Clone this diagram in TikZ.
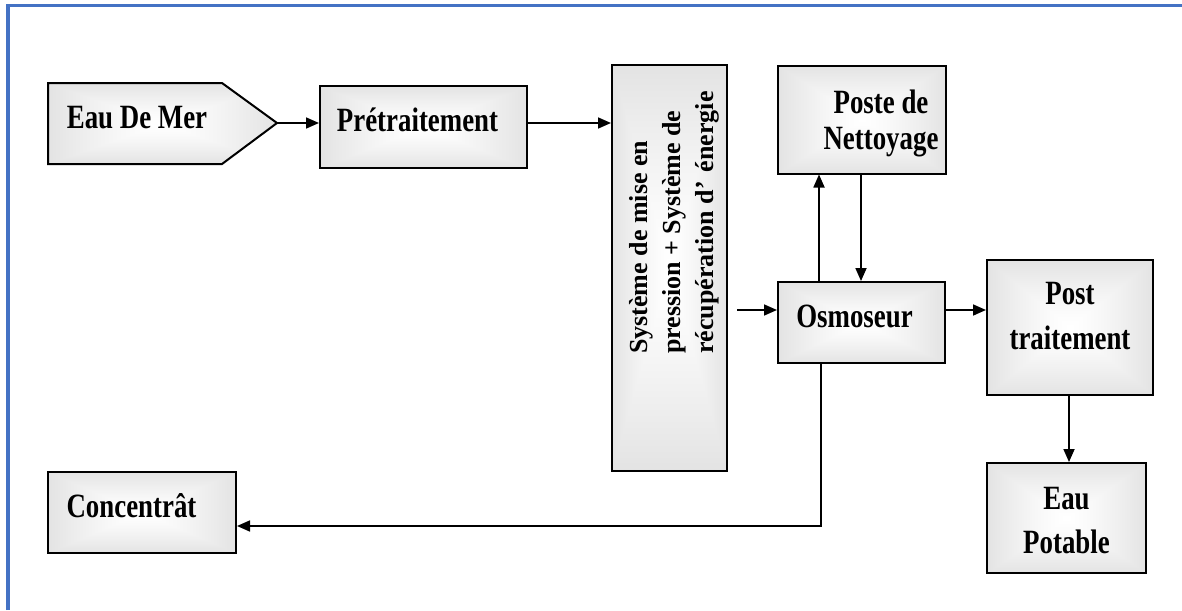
\documentclass[tikz,border=0pt]{standalone}
\usepackage{fontspec}
\setmainfont{Liberation Serif}[FakeStretch=0.79]
\newfontfamily\uprightserif{Liberation Serif}
\usetikzlibrary{arrows.meta}

% soft grey frame fading to white in the middle of each box
\pgfdeclarefunctionalshading{boxfade}{\pgfpoint{-50bp}{-50bp}}{\pgfpoint{50bp}{50bp}}{}{
  abs exch abs 2 copy lt {exch} if pop
  50 div 1.3 exp 0.27 mul neg 1 add dup dup
}

\definecolor{frameblue}{RGB}{68,114,196}

\begin{document}
\begin{tikzpicture}[x=1pt,y=-1pt,
  txt/.style={font=\fontsize{34}{36}\selectfont\bfseries, align=center, inner sep=0pt},
  blk/.style={draw=black, line width=2pt, shading=boxfade, rectangle,
              inner sep=0pt, font=\fontsize{34}{36}\selectfont\bfseries, align=center},
  arr/.style={line width=1.7pt, -{Triangle[length=13pt,width=11pt]}},
]
\useasboundingbox (0,0) rectangle (1182,610);

% frame along the top and left edges
\draw[frameblue, line width=3.6pt] (8,610) -- (8,5.7) -- (1182,5.7);

% sea water inlet (arrow-shaped block)
\shade[shading=boxfade, draw=black, line width=2pt, line join=miter]
  (48,83) -- (222,83) -- (277,123) -- (222,164) -- (48,164) -- cycle;
\coordinate (seatip) at (277,123);
\node[txt, anchor=base] (sea) at (137,128) {Eau De Mer};

% process blocks (text height/depth place the last baseline inside each block)
\node[blk, minimum width=207pt, minimum height=82pt, text height=8pt, text depth=0pt]
  (pre) at (423.5,127) {\hspace*{-12pt}Prétraitement};
\node[blk, minimum width=115pt, minimum height=406pt] (vsys) at (669.5,268) {};
\node[rotate=90, anchor=base west, align=left, inner sep=0pt,
      font=\uprightserif\fontsize{26}{33}\selectfont\bfseries] (vsystxt) at (713,354)
  {Système de mise en\\pression + Système de\\récupération d’\hspace{9pt}énergie};
\node[blk, minimum width=168pt, minimum height=108pt, text height=59pt, text depth=0pt]
  (clean) at (862,119.5) {\hspace*{38pt}Poste de\\\hspace*{38pt}Nettoyage};
\node[blk, minimum width=167pt, minimum height=81pt, text height=9pt, text depth=0pt]
  (osm) at (861.5,322.5) {\hspace*{-14pt}Osmoseur};
\node[blk, minimum width=166pt, minimum height=135pt, text height=43pt, text depth=0pt]
  (post) at (1070,327.5) {Post\\[9pt]traitement};
\node[blk, minimum width=159pt, minimum height=110pt, text height=70pt, text depth=0pt]
  (pot) at (1066.5,518) {Eau\\[8pt]Potable};
\node[blk, minimum width=188pt, minimum height=81pt, text height=9pt, text depth=0pt]
  (conc) at (142,512.5) {\hspace*{-21pt}Concentrât};

% helper points for the connectors
\coordinate (osmin) at (737,310);
\coordinate (upx) at (819,0);
\coordinate (dnx) at (861,0);
\coordinate (bend) at (821,526);
\coordinate (px) at (1069,0);

% connectors
\draw[arr] (seatip) -- (seatip -| pre.west);
\draw[arr] (pre.east |- seatip) -- (vsys.west |- seatip);
\draw[arr] (osmin) -- (osmin -| osm.west);
\draw[arr] (osm.east |- osmin) -- (post.west |- osmin);
\draw[arr] (upx |- osm.north) -- (upx |- clean.south);
\draw[arr] (dnx |- clean.south) -- (dnx |- osm.north);
\draw[arr] (bend |- osm.south) -- (bend) -- (bend -| conc.east);
\draw[arr] (px |- post.south) -- (px |- pot.north);
\end{tikzpicture}
\end{document}
